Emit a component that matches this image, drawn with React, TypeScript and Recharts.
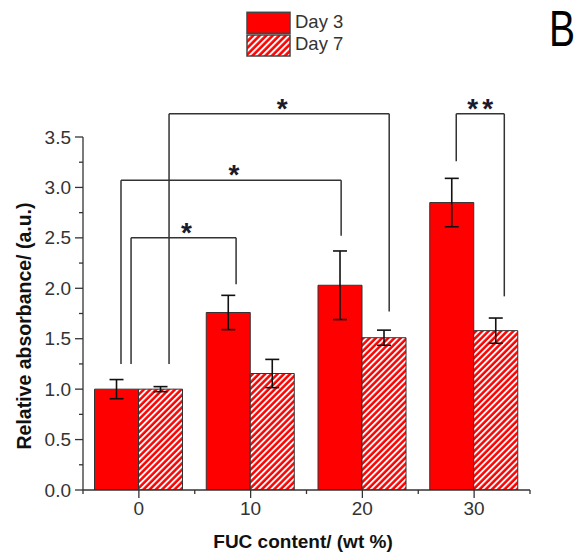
import React from 'react';
import { BarChart, Bar, XAxis, YAxis, ErrorBar, ReferenceLine, ReferenceDot } from 'recharts';

// FUC content groups (wt %)
const categories = ['0', '10', '20', '30'];
const fucContent = [0, 10, 20, 30];

// Relative absorbance (a.u.), mean and error
const day3 = [1.0, 1.76, 2.03, 2.85];
const day3Err = [0.095, 0.17, 0.34, 0.24];
const day7 = [1.0, 1.155, 1.51, 1.58];
const day7Err = [0.025, 0.14, 0.075, 0.125];

const seriesNames = ['Day 3', 'Day 7'];

const yTicks = [0, 0.25, 0.5, 0.75, 1, 1.25, 1.5, 1.75, 2, 2.25, 2.5, 2.75, 3, 3.25, 3.5];
const xTicks = [-5, 0, 5, 10, 15, 20, 25, 30, 35];

// Significance brackets: x in wt % units, y in absorbance units
const brackets = [
  { x1: -0.7, x2: 8.7, y: 2.5, y1: 1.25, y2: 2.04, mark: '*' },
  { x1: -1.6, x2: 18.1, y: 3.07, y1: 1.25, y2: 2.52, mark: '*' },
  { x1: 2.7, x2: 22.4, y: 3.73, y1: 1.25, y2: 1.77, mark: '*' },
  { x1: 28.4, x2: 32.7, y: 3.73, y1: 3.26, y2: 1.92, mark: '**' },
];

const data = categories.map((name, i) => ({
  name,
  x: fucContent[i],
  day3: day3[i],
  day3Err: day3Err[i],
  day7: day7[i],
  day7Err: day7Err[i],
}));

const FONT = '"Liberation Sans", Arial, sans-serif';
const AXIS = '#333';
const RED = '#ff0000';

const YTick = (props: any) => {
  const { x, y, payload } = props;
  const axisX = x + 12;
  const v = payload.value as number;
  const major = Math.abs(v * 2 - Math.round(v * 2)) < 1e-6;
  return (
    <g>
      <line x1={axisX - (major ? 8 : 4)} x2={axisX} y1={y} y2={y} stroke={AXIS} strokeWidth={1.3} />
      {major && (
        <text x={x} y={y} textAnchor="end" dominantBaseline="central" fill="#333" fontSize={19} fontFamily={FONT}>
          {v.toFixed(1)}
        </text>
      )}
    </g>
  );
};

const XTick = (props: any) => {
  const { x, y, payload } = props;
  const axisY = y - 12;
  const v = payload.value as number;
  const major = v % 10 === 0;
  return (
    <g>
      <line x1={x} x2={x} y1={axisY} y2={axisY + (major ? 8 : 4)} stroke={AXIS} strokeWidth={1.3} />
      {major && (
        <text x={x} y={y} dy="0.71em" textAnchor="middle" fill="#333" fontSize={19} fontFamily={FONT}>
          {v}
        </text>
      )}
    </g>
  );
};

const starShape = (mark: string) => (p: any) => (
  <text
    x={p.cx + (mark.length > 1 ? 2 : 3)}
    y={p.cy + 4}
    textAnchor="middle"
    fill="#1a1a2e"
    fontSize={28}
    fontWeight="bold"
    fontFamily={FONT}
    letterSpacing={mark.length > 1 ? 4 : 0}
  >
    {mark}
  </text>
);

export default function App() {
  return (
    <div style={{ position: 'absolute', left: 0, top: 0, width: 579, height: 556, background: '#fff', fontFamily: FONT, overflow: 'hidden' }}>
      <BarChart
        width={579}
        height={556}
        data={data}
        margin={{ top: 137, right: 49, bottom: 36, left: 0 }}
        barCategoryGap="10.3%"
        barGap={0}
      >
        <defs>
          <pattern id="hatch" patternUnits="userSpaceOnUse" width={4.4} height={4.4} patternTransform="rotate(45)">
            <rect width={4.4} height={4.4} fill={RED} />
            <rect x={0} y={0} width={1.9} height={4.4} fill="#fff" />
          </pattern>
        </defs>
        <XAxis xAxisId="cat" dataKey="name" orientation="top" hide />
        <XAxis
          xAxisId="num"
          dataKey="x"
          type="number"
          domain={[-5, 35]}
          ticks={xTicks}
          interval={0}
          allowDataOverflow
          height={30}
          tickSize={8}
          tickMargin={4}
          tickLine={false}
          axisLine={{ stroke: AXIS, strokeWidth: 1.3 }}
          tick={<XTick />}
        />
        <YAxis
          width={83}
          domain={[0, 3.5]}
          ticks={yTicks}
          interval={0}
          allowDataOverflow
          tickSize={8}
          tickMargin={4}
          tickLine={false}
          axisLine={{ stroke: AXIS, strokeWidth: 1.3 }}
          tick={<YTick />}
        />
        <Bar xAxisId="cat" dataKey="day3" name={seriesNames[0]} fill={RED} stroke="#333" strokeWidth={1} isAnimationActive={false}>
          <ErrorBar dataKey="day3Err" width={7} stroke="#111" strokeWidth={1.6} direction="y" />
        </Bar>
        <Bar xAxisId="cat" dataKey="day7" name={seriesNames[1]} fill="url(#hatch)" stroke="#333" strokeWidth={1} isAnimationActive={false}>
          <ErrorBar dataKey="day7Err" width={7} stroke="#111" strokeWidth={1.6} direction="y" />
        </Bar>
        {brackets.map((b, i) => (
          <ReferenceLine
            key={`l${i}`}
            xAxisId="num"
            segment={[{ x: b.x1, y: b.y1 }, { x: b.x1, y: b.y }]}
            stroke={AXIS}
            strokeWidth={1.5}
            ifOverflow="visible"
          />
        ))}
        {brackets.map((b, i) => (
          <ReferenceLine
            key={`t${i}`}
            xAxisId="num"
            segment={[{ x: b.x1, y: b.y }, { x: b.x2, y: b.y }]}
            stroke={AXIS}
            strokeWidth={1.5}
            ifOverflow="visible"
          />
        ))}
        {brackets.map((b, i) => (
          <ReferenceLine
            key={`r${i}`}
            xAxisId="num"
            segment={[{ x: b.x2, y: b.y }, { x: b.x2, y: b.y2 }]}
            stroke={AXIS}
            strokeWidth={1.5}
            ifOverflow="visible"
          />
        ))}
        {brackets.map((b, i) => (
          <ReferenceDot
            key={`s${i}`}
            xAxisId="num"
            x={(b.x1 + b.x2) / 2}
            y={b.y}
            r={0}
            ifOverflow="visible"
            shape={starShape(b.mark)}
          />
        ))}
      </BarChart>

      {/* legend */}
      <svg style={{ position: 'absolute', left: 240, top: 5 }} width={120} height={56}>
        <defs>
          <pattern id="hatchLegend" patternUnits="userSpaceOnUse" width={4.6} height={4.6} patternTransform="rotate(45)">
            <rect width={4.6} height={4.6} fill={RED} />
            <rect x={0} y={0} width={2} height={4.6} fill="#fff" />
          </pattern>
        </defs>
        <rect x={7} y={7.3} width={43} height={21} fill={RED} stroke="#444" strokeWidth={1.5} />
        <text x={55} y={23} fontSize={18.5} fill="#333" fontFamily={FONT}>{seriesNames[0]}</text>
        <rect x={7} y={30} width={43} height={21} fill="url(#hatchLegend)" stroke="#444" strokeWidth={1.5} />
        <text x={55} y={45} fontSize={18.5} fill="#333" fontFamily={FONT}>{seriesNames[1]}</text>
      </svg>

      <div
        style={{
          position: 'absolute',
          left: 549,
          top: 4,
          fontSize: 50,
          lineHeight: '50px',
          color: '#000',
          transform: 'scaleX(0.78)',
          transformOrigin: 'left top',
        }}
      >
        B
      </div>

      <div style={{ position: 'absolute', left: 0, width: 606, top: 531, textAlign: 'center', fontSize: 19, fontWeight: 'bold', color: '#111', lineHeight: '22px' }}>
        FUC content/ (wt %)
      </div>

      <div
        style={{
          position: 'absolute',
          left: 24,
          top: 326,
          transform: 'translate(-50%, -50%) rotate(-90deg)',
          whiteSpace: 'nowrap',
          fontSize: 19.5,
          fontWeight: 'bold',
          color: '#111',
          lineHeight: '22px',
        }}
      >
        Relative absorbance/ (a.u.)
      </div>
    </div>
  );
}
